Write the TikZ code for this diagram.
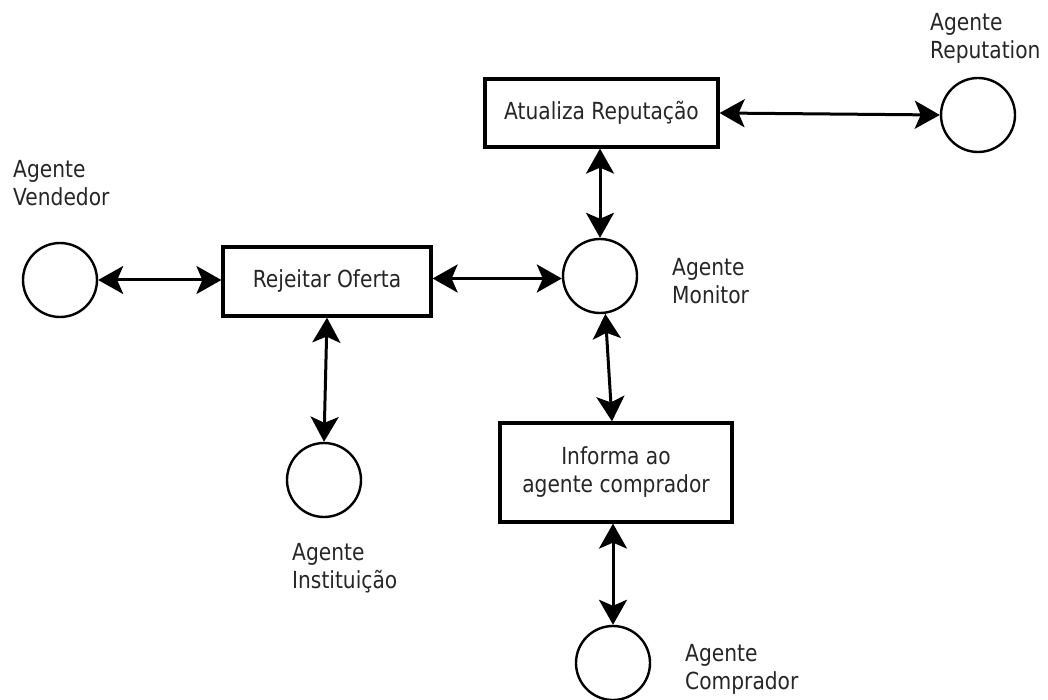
\documentclass[tikz,border=0pt]{standalone}
\usepackage{fontspec}
\setmainfont{DejaVu Sans}[FakeStretch=0.86]
\usetikzlibrary{arrows.meta}
\begin{document}
\begin{tikzpicture}[x=1pt,y=-1pt,
  agent/.style={circle,draw,line width=2.4pt,minimum size=74pt,inner sep=0pt},
  procbox/.style={rectangle,draw,line width=3.2pt,inner sep=0pt,align=center,
     font=\fontsize{23.5}{28}\selectfont,text=black!85},
  lbl/.style={inner sep=0pt,anchor=west,align=left,
     font=\fontsize{23.5}{28}\selectfont,text=black!85},
  link/.style={line width=3pt,{Stealth[length=25pt,width=28pt,inset=6pt]}-{Stealth[length=25pt,width=28pt,inset=6pt]}}]
\useasboundingbox[fill=white] (0,0) rectangle (1048,700);

% agents
\node[agent] (rep) at (978,115) {};
\node[agent] (mon) at (600,276) {};
\node[agent] (ven) at (60,280) {};
\node[agent] (ins) at (324,480) {};
\node[agent] (com) at (613,663) {};

% process boxes
\node[procbox,minimum width=233pt,minimum height=68pt] (atu) at (601.5,113) {Atualiza Reputação};
\node[procbox,minimum width=208pt,minimum height=69pt] (rej) at (327,281.5) {Rejeitar Oferta};
\node[procbox,minimum width=232pt,minimum height=99pt] (inf) at (616,472.5) {Informa ao\\agente comprador};

% labels
\node[lbl] (lrep) at (930,38) {Agente\\Reputation};
\node[lbl] (lmon) at (672,281) {Agente\\Monitor};
\node[lbl] (lven) at (13,183) {Agente\\Vendedor};
\node[lbl] (lins) at (292,568) {Agente\\Instituição};
\node[lbl] (lcom) at (685,669) {Agente\\Comprador};

% connectors
\coordinate (rejE) at ([yshift=3pt]rej.east);
\coordinate (infN) at ([xshift=-4pt]inf.north);
\draw[link] (atu.east) -- (rep.west);
\draw[link] (atu.south -| mon.north) -- (mon.north);
\draw[link] (ven.east) -- (rej.west |- ven.east);
\draw[link] (rejE) -- (mon.west |- rejE);
\draw[link] (rej.south) -- (ins.north);
\draw[link] (mon.278) -- (infN);
\draw[link] (inf.south -| com.north) -- (com.north);
\end{tikzpicture}
\end{document}
